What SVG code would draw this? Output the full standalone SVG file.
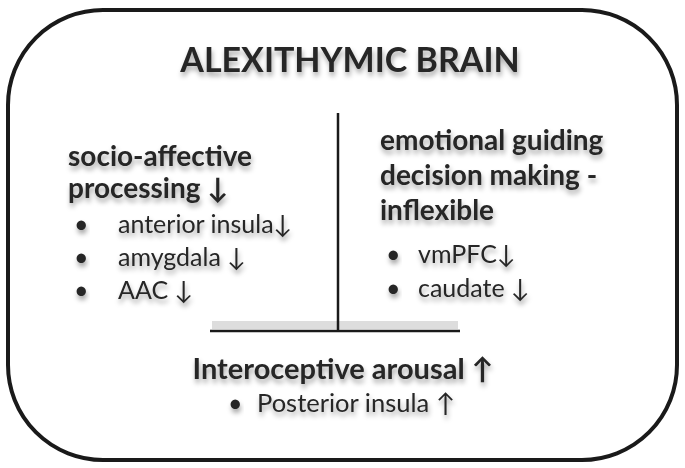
<svg xmlns="http://www.w3.org/2000/svg" width="685" height="468" viewBox="0 0 685 468">
<defs>
<filter id="sh" x="-10%" y="-30%" width="120%" height="180%"><feDropShadow dx="1" dy="4" stdDeviation="2.5" flood-color="#000" flood-opacity="0.35"/></filter>
<style>
text{font-family:Lato,"Open Sans",sans-serif;fill:#262626;filter:url(#sh)}
.h{font-weight:bold;font-size:28px}
.b{font-size:25px}
</style>
</defs>
<g id="frame"><rect x="8" y="10" width="669" height="450" rx="95" ry="95" fill="#fff" stroke="#1a1a1a" stroke-width="4"/></g>
<g id="title"><text x="350" y="72" text-anchor="middle" font-weight="bold" font-size="34">ALEXITHYMIC BRAIN</text></g>
<g id="connectors" stroke="#1a1a1a" stroke-width="2.5">
<rect x="212" y="321" width="246" height="8" fill="#ddd" stroke="none"/>
<line x1="338" y1="113" x2="338" y2="331"/>
<line x1="210" y1="331" x2="460" y2="331"/>
</g>
<g id="socio">
<text class="h" x="68" y="166">socio-affective</text>
<text class="h" x="68" y="198">processing ↓</text>
<text class="b" x="74" y="233">•</text><text class="b" x="118" y="233">anterior insula↓</text>
<text class="b" x="74" y="266">•</text><text class="b" x="118" y="266">amygdala ↓</text>
<text class="b" x="74" y="299">•</text><text class="b" x="118" y="299">AAC ↓</text>
</g>
<g id="emotional">
<text class="h" x="380" y="150">emotional guiding</text>
<text class="h" x="380" y="185">decision making -</text>
<text class="h" x="380" y="220">inflexible</text>
<text class="b" x="386" y="263">•</text><text class="b" x="418" y="263">vmPFC↓</text>
<text class="b" x="386" y="297">•</text><text class="b" x="418" y="297">caudate ↓</text>
</g>
<g id="intero">
<text x="343" y="379" text-anchor="middle" font-weight="bold" font-size="29">Interoceptive arousal ↑</text>
<text class="b" x="228" y="412">•</text><text x="257" y="412" font-size="25.5">Posterior insula ↑</text>
</g>
</svg>
